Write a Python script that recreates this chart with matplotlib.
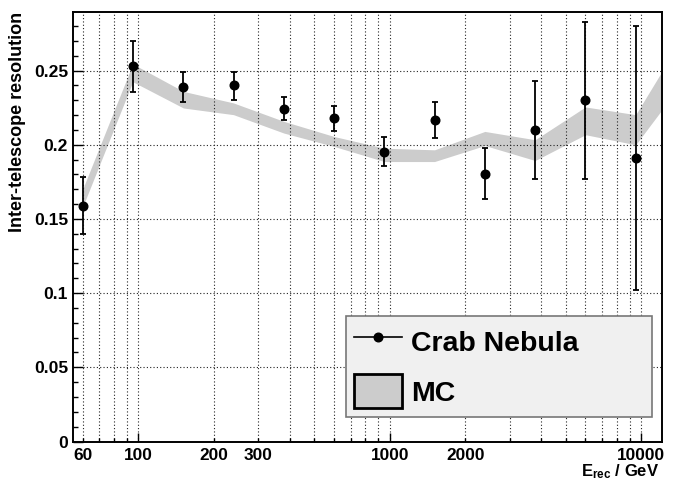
import matplotlib
matplotlib.use('Agg')
import numpy as np
import matplotlib.pyplot as plt
import matplotlib.transforms as mtransforms
from matplotlib.ticker import FixedLocator, FixedFormatter, NullFormatter
from matplotlib.patches import Patch
from matplotlib.lines import Line2D

plt.rcParams['font.family'] = ['Liberation Sans', 'DejaVu Sans']
plt.rcParams['font.weight'] = 'bold'
plt.rcParams['mathtext.fontset'] = 'custom'
plt.rcParams['mathtext.rm'] = 'Liberation Sans:bold'
plt.rcParams['mathtext.it'] = 'Liberation Sans:bold'
plt.rcParams['mathtext.bf'] = 'Liberation Sans:bold'

# crab nebula data points (energy in GeV)
energy = [60, 95, 151, 239, 379, 600, 951, 1507, 2388, 3785, 5999, 9509]
res = [0.159, 0.253, 0.239, 0.240, 0.224, 0.218, 0.195, 0.217, 0.180, 0.210, 0.230, 0.191]
res_hi = [0.178, 0.270, 0.249, 0.249, 0.232, 0.226, 0.205, 0.229, 0.1975, 0.243, 0.283, 0.280]
res_lo = [0.140, 0.2355, 0.229, 0.2305, 0.217, 0.209, 0.1855, 0.2045, 0.1635, 0.177, 0.177, 0.102]

# MC band
mc_energy = [60, 95, 151, 239, 379, 600, 951, 1507, 2388, 3785, 5999, 9509, 12100]
mc_lo = [0.158, 0.2425, 0.2248, 0.2203, 0.2079, 0.1989, 0.1887, 0.1887, 0.1995, 0.1894, 0.2068, 0.200, 0.2236]
mc_hi = [0.170, 0.2545, 0.236, 0.2282, 0.2158, 0.2056, 0.1977, 0.1966, 0.209, 0.2034, 0.2255, 0.2203, 0.2495]

x_labels = ['60', '100', '200', '300', '1000', '2000', '10000']
x_label_pos = [60, 100, 200, 300, 1000, 2000, 10000]
y_ticks = [0, 0.05, 0.1, 0.15, 0.2, 0.25]
y_labels = ['0', '0.05', '0.1', '0.15', '0.2', '0.25']

W, H = 683, 484
fig = plt.figure(figsize=(W / 100, H / 100), dpi=100)
ax = fig.add_axes([73.3 / W, 1 - 441.5 / H, (662 - 73.3) / W, (441.5 - 11.7) / H])

ax.fill_between(mc_energy, mc_lo, mc_hi, color='#cccccc', lw=0, zorder=1)

r = np.array(res)
yerr = [r - np.array(res_lo), np.array(res_hi) - r]
ax.errorbar(energy, res, yerr=yerr, fmt='o', color='black', ms=6.2,
            elinewidth=1.3, capsize=1.9, capthick=1.3, zorder=4)

ax.set_xscale('log')
ax.set_xlim(55.1, 12100)
ax.set_ylim(0, 0.2897)

# grid lines at every log step
grid_x = []
for dec in [10, 100, 1000]:
    for m in range(1, 10):
        v = m * dec
        if 60 <= v <= 10000:
            grid_x.append(v)
grid_x.append(10000)
for gx in grid_x:
    ax.axvline(gx, color='#222222', lw=0.8, ls=(0, (1, 2)), zorder=1.5)
for gy in y_ticks[1:]:
    ax.axhline(gy, color='#222222', lw=0.8, ls=(0, (1, 2)), zorder=1.5)

ax.xaxis.set_major_locator(FixedLocator([100, 1000, 10000]))
ax.xaxis.set_major_formatter(NullFormatter())
ax.xaxis.set_minor_locator(FixedLocator([g for g in grid_x if g not in (100, 1000, 10000)]))
ax.xaxis.set_minor_formatter(NullFormatter())
lab_tr = mtransforms.offset_copy(ax.get_xaxis_transform(), fig=fig, y=-19, units='dots')
for xp, xl in zip(x_label_pos, x_labels):
    ax.text(xp, 0, xl, transform=lab_tr, ha='center', va='baseline',
            fontsize=12.4, fontweight='bold')

ax.yaxis.set_major_locator(FixedLocator(y_ticks))
ax.yaxis.set_major_formatter(FixedFormatter(y_labels))
ax.yaxis.set_minor_locator(FixedLocator(np.arange(0.01, 0.29, 0.01)))
ax.tick_params(axis='y', which='major', direction='in', length=7.3, width=1, labelsize=12.6, pad=3.8)
ax.tick_params(axis='y', which='minor', direction='in', length=3.6, width=1)
ax.tick_params(axis='x', which='major', direction='in', length=6.5, width=1)
ax.tick_params(axis='x', which='minor', direction='in', length=3.2, width=1)
for lab in ax.get_yticklabels():
    lab.set_fontweight('bold')
for sp in ax.spines.values():
    sp.set_linewidth(1.4)

fig.text(17.5 / W, 1 - 121.5 / H, 'Inter-telescope resolution', rotation=90, ha='center', va='center',
         fontsize=13, fontweight='bold')
fig.text(659 / W, 1 - 476.5 / H, r'E$_{\rm rec}$ / GeV', ha='right', va='baseline', fontsize=12)

handles = [Line2D([], [], color='black', lw=1.2, marker='o', ms=6.2),
           Patch(facecolor='#cccccc', edgecolor='black', lw=2)]
leg = ax.legend(handles, ['Crab Nebula', 'MC'], loc='lower left',
                bbox_to_anchor=(345.7 / W, 1 - 416.7 / H, (652 - 345.7) / W, 115.7 / H),
                bbox_transform=fig.transFigure, mode='expand',
                prop={'weight': 'bold', 'size': 20.5}, handlelength=1.68, handleheight=1.46,
                handletextpad=0.33, labelspacing=0.57, borderpad=0.29, borderaxespad=0,
                fancybox=False, framealpha=1, facecolor='#f0f0f0', edgecolor='#777777')
leg.get_frame().set_linewidth(1.2)

fig.savefig('out.png', dpi=100)
